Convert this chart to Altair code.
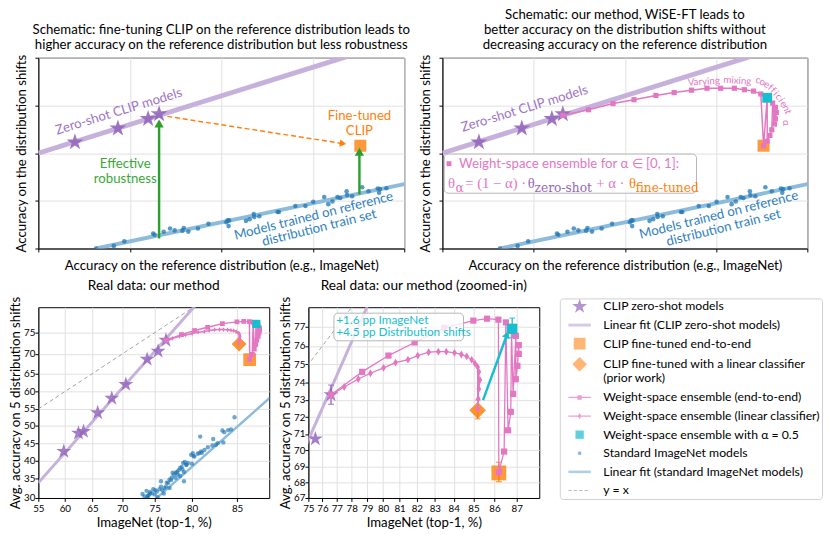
import numpy as np
import pandas as pd
import altair as alt

FONT = "Lato"
MATHM = "Liberation Serif"
MATHS = "DejaVu Serif"

PURPLE = "#9467bd"
LAVENDER = "#c6b1dd"
ORANGE = "#ff7f0e"
PINK = "#e377c2"
CYAN = "#17becf"
BLUE = "#1f77b4"
BLUE_FIT = "#8dbbdc"
GREEN = "#2ca02c"
GREY = "#a0a0a0"

# ---------------- schematic panels (arbitrary units 0..4) ----------------
sch_zs_x = [0.40, 0.87, 1.20, 1.32]
sch_zs_y = [2.23, 2.52, 2.72, 2.82]
sch_zsfit_x = [0.0, 3.45]
sch_zsfit_y = [2.0, 4.07]
sch_std_x = [0.63, 0.825, 0.94, 1.255, 1.27, 1.37, 1.44, 1.49, 1.575, 1.59,
             1.64, 1.745, 1.86, 2.055, 2.07, 2.08, 2.085, 2.27, 2.31, 2.355,
             2.36, 2.415, 2.615, 2.63, 2.81, 2.92, 3.005, 3.125, 3.17, 3.215,
             3.27, 3.30, 3.37, 3.375, 3.43, 3.54, 3.61, 3.71, 3.725, 3.735, 3.805]
sch_std_y = [0.0, 0.055, 0.15, 0.315, 0.29, 0.35, 0.42, 0.38, 0.375, 0.43,
             0.355, 0.42, 0.52, 0.55, 0.59, 0.47, 0.59, 0.58, 0.615, 0.725,
             0.66, 0.675, 0.765, 0.765, 0.89, 0.89, 0.98, 1.08, 0.93, 0.985,
             1.08, 1.06, 1.20, 1.12, 1.095, 1.285, 1.20, 1.26, 1.17, 1.245, 1.265]
sch_stdfit_x = [0.63, 4.0]
sch_stdfit_y = [0.0, 1.35]
sch_ft_x = [3.52]
sch_ft_y = [2.155]
sch_wise_x = [1.32, 1.60, 1.87, 2.10, 2.34, 2.54, 2.73, 2.90, 3.05, 3.20, 3.31, 3.41,
              3.49, 3.56, 3.62, 3.65, 3.66, 3.65, 3.64, 3.61, 3.59, 3.56, 3.52]
sch_wise_y = [2.79, 2.91, 3.04, 3.12, 3.21, 3.27, 3.32, 3.36, 3.36, 3.36, 3.33, 3.30,
              3.24, 3.16, 3.05, 2.96, 2.85, 2.72, 2.61, 2.49, 2.37, 2.25, 2.155]
sch_half_x = [3.56]
sch_half_y = [3.16]
# arrows: start -> end
sch_arrow_x0 = [1.41, 1.32, 3.51]
sch_arrow_y0 = [2.77, 0.21, 1.13]
sch_arrow_x1 = [3.33, 1.32, 3.51]
sch_arrow_y1 = [2.20, 2.62, 2.03]

# ---------------- real data (percent) ----------------
zs_x = [59.8, 62.5, 63.4, 65.9, 68.3, 70.6, 73.9, 75.5, 76.6]
zs_y = [42.6, 47.9, 48.4, 53.9, 58.1, 62.0, 68.7, 70.7, 73.3]
zsfit_x = [55.0, 81.0]
zsfit_y = [33.9, 81.5]
std_x = [84.75, 81.0, 83.5, 83.7, 84.1, 84.4, 82.5, 83.0, 83.6, 82.4, 82.8,
         81.1, 80.9, 80.7, 81.2, 80.1, 79.9, 80.2, 80.0, 79.1, 78.9, 79.3,
         78.7, 78.5, 78.8, 78.3, 79.0, 78.1, 77.9, 77.7, 78.2, 77.5, 79.0,
         77.4, 77.3, 77.1, 76.9, 76.7, 76.6, 76.4, 76.1, 76.3, 75.9, 75.9,
         75.7, 75.3, 75.1, 75.0, 74.8, 74.3, 75.4, 77.1, 77.9, 78.5, 79.3,
         79.5, 80.3, 81.5, 81.9, 73.2, 73.5, 73.8, 74.0, 74.3, 73.9, 74.6, 74.1]
std_y = [52.6, 46.9, 48.7, 48.2, 48.8, 49.0, 46.2, 45.0, 45.2, 44.3, 44.5,
         42.6, 42.1, 41.9, 42.2, 42.1, 41.6, 41.3, 39.1, 39.6, 39.3, 38.8,
         38.2, 37.9, 37.5, 37.3, 36.8, 36.8, 36.6, 36.1, 36.1, 36.6, 34.3,
         35.3, 34.6, 34.8, 33.9, 33.9, 32.9, 32.5, 32.0, 31.1, 34.3, 32.9,
         32.2, 31.6, 32.0, 30.9, 32.2, 31.1, 30.2, 32.5, 35.2, 35.7, 38.8,
         39.3, 41.1, 43.0, 43.8, 31.0, 30.4, 31.8, 30.5, 31.5, 30.1, 31.2, 30.7]
stdfit_x = [73.0, 88.0]
stdfit_y = [26.7, 58.4]
e2e_x = [76.6, 78.68, 80.33, 81.87, 83.5, 84.99, 85.65, 86.18, 86.52, 86.77,
         86.96, 87.09, 87.09, 87.03, 86.96, 86.84, 86.74, 86.62, 86.44, 86.2]
e2e_y = [73.3, 74.59, 75.48, 76.18, 76.95, 77.32, 77.42, 77.37, 77.23, 76.9,
         76.53, 76.04, 75.57, 74.92, 74.18, 73.35, 72.31, 71.22, 69.93, 68.66]
lin_x = [76.6, 77.5, 78.43, 79.21, 80.03, 80.76, 81.49, 82.05, 82.66, 83.19, 83.61,
         84.04, 84.39, 84.66, 84.91, 85.07, 85.2, 85.26, 85.31, 85.26, 85.23, 85.2]
lin_y = [73.3, 73.74, 74.19, 74.51, 74.81, 75.1, 75.26, 75.48, 75.66, 75.69, 75.69,
         75.63, 75.54, 75.44, 75.26, 75.05, 74.86, 74.59, 74.14, 73.63, 73.07, 72.5]
ft_x, ft_y = [86.2], [68.6]
lc_x, lc_y = [85.2], [72.4]
wise_x, wise_y = [86.8], [76.9]
yx_x = [55.0, 82.0]
yx_y = [55.0, 82.0]
err_x = [76.6, 85.2, 86.2, 86.8]
err_lo = [72.75, 71.9, 68.05, 76.44]
err_hi = [73.85, 73.0, 69.27, 77.45]
err_col = [PURPLE, ORANGE, ORANGE, CYAN]
herr_lo, herr_hi, herr_y = [86.62], [86.98], [76.9]

legend_labels = ["CLIP zero-shot models", "Linear fit (CLIP zero-shot models)",
                 "CLIP fine-tuned end-to-end",
                 "CLIP fine-tuned with a linear classifier (prior work)",
                 "Weight-space ensemble (end-to-end)",
                 "Weight-space ensemble (linear classifier)",
                 "Weight-space ensemble with α = 0.5", "Standard ImageNet models",
                 "Linear fit (standard ImageNet models)", "y = x"]


def lg(v):
    a = np.asarray(v, dtype=float)
    return np.log(a / (100.0 - a))


def star_path(r, ratio=0.382):
    ang = -np.pi / 2 + np.arange(10) * np.pi / 5
    rad = np.where(np.arange(10) % 2 == 0, r, r * ratio)
    return "M" + "L".join(f"{q*np.cos(a):.3f},{q*np.sin(a):.3f}" for q, a in zip(rad, ang)) + "Z"


def rect(x0, x1, h):
    return f"M{x0},{-h}L{x1},{-h}L{x1},{h}L{x0},{h}Z"


def sq(s):
    return rect(-s, s, s)


def dia(h, w):
    return f"M0,{-h}L{w},0L0,{h}L{-w},0Z"


def circ(r, n=16):
    a = np.arange(n) * 2 * np.pi / n
    return "M" + "L".join(f"{r*np.cos(t):.3f},{r*np.sin(t):.3f}" for t in a) + "Z"


STAR = star_path(1.0)
THIN_DIA = dia(1.0, 0.6)
L = 2.3
legend_paths = [star_path(1.6), rect(-L, L, 0.3), sq(1.2), dia(1.5, 1.5),
                rect(-L, L, 0.13) + sq(0.45), rect(-L, L, 0.13) + dia(0.65, 0.38),
                sq(0.85), circ(0.38), rect(-L, L, 0.26),
                "".join(rect(a, a + 0.7, 0.1) for a in [-2.3, -1.2, -0.1, 1.0])]
legend_colors = [PURPLE, LAVENDER, "#ff973a", "#ff973a", PINK, PINK, CYAN, "#5b9bcb",
                 BLUE_FIT, GREY]

# ---------------- schematic helpers ----------------
def sch_axes():
    X = alt.X("x:Q", scale=alt.Scale(domain=[0, 4], nice=False, zero=False),
              axis=alt.Axis(values=[0, 1, 2, 3, 4], labels=False, tickSize=3.5,
                            title="Accuracy on the reference distribution (e.g., ImageNet)",
                            titlePadding=6))
    Y = alt.Y("y:Q", scale=alt.Scale(domain=[0, 4], nice=False, zero=False),
              axis=alt.Axis(values=[0, 1, 2, 3, 4], labels=False, tickSize=3.5,
                            title="Accuracy on the distribution shifts", titlePadding=6))
    return X, Y


def sdf(xs, ys, **kw):
    d = pd.DataFrame({"x": xs, "y": ys})
    for k, v in kw.items():
        d[k] = v
    return d


def sch_common(X, Y):
    layers = []
    layers.append(alt.Chart(sdf(sch_zsfit_x, sch_zsfit_y)).mark_line(
        color=LAVENDER, strokeWidth=5, clip=True).encode(x=X, y=Y))
    layers.append(alt.Chart(sdf(sch_stdfit_x, sch_stdfit_y)).mark_line(
        color=BLUE_FIT, strokeWidth=4, clip=True).encode(x=X, y=Y))
    layers.append(alt.Chart(sdf(sch_std_x, sch_std_y)).mark_circle(
        color=BLUE, opacity=0.75, size=22, clip=True).encode(x=X, y=Y))
    layers.append(alt.Chart(sdf(sch_zs_x, sch_zs_y)).mark_point(
        shape=STAR, filled=True, size=330, color=PURPLE, opacity=0.9).encode(x=X, y=Y))
    layers.append(alt.Chart(sdf(sch_ft_x, sch_ft_y)).mark_square(
        size=150, color=ORANGE, opacity=0.8).encode(x=X, y=Y))
    return layers


def texts(df, X, Y, **mk):
    return alt.Chart(df).mark_text(font=FONT, **mk).encode(x=X, y=Y, text="t:N")


# ---------------- top-left ----------------
X, Y = sch_axes()
tl = sch_common(X, Y)
arr = pd.DataFrame({"x": sch_arrow_x0, "y": sch_arrow_y0, "x2": sch_arrow_x1, "y2": sch_arrow_y1})
tl.append(alt.Chart(arr.iloc[:1]).mark_rule(color=ORANGE, strokeWidth=1.5, strokeDash=[5, 3]).encode(
    x=X, y=Y, x2="x2:Q", y2="y2:Q"))
tl.append(alt.Chart(arr.iloc[1:]).mark_rule(color=GREEN, strokeWidth=2.5).encode(
    x=X, y=Y, x2="x2:Q", y2="y2:Q"))
heads = pd.DataFrame({"x": sch_arrow_x1, "y": sch_arrow_y1})
tl.append(alt.Chart(heads.iloc[:1]).mark_point(shape="triangle-right", angle=9, filled=True,
                                               size=55, color=ORANGE, opacity=1).encode(x=X, y=Y))
tl.append(alt.Chart(heads.iloc[1:]).mark_point(shape="triangle-up", filled=True,
                                               size=90, color=GREEN, opacity=1).encode(x=X, y=Y))
tl.append(texts(sdf([0.88], [2.87], t="Zero-shot CLIP models"), X, Y, angle=343, fontSize=13.5, color="#9d76c6"))
tl.append(texts(sdf([3.51, 3.51], [2.77, 2.46], t=["Fine-tuned", "CLIP"]), X, Y, fontSize=13.5, color=ORANGE))
tl.append(texts(sdf([0.95, 0.95], [1.76, 1.45], t=["Effective", "robustness"]), X, Y, fontSize=13.5, color="#3aa63a"))
tl.append(texts(sdf([3.01, 3.07], [0.68, 0.43], t=["Models trained on reference", "distribution train set"]),
                X, Y, angle=346, fontSize=13.5, color="#2f80bf"))
# invisible spacer so that the left edges of the two rows line up
tl.append(alt.Chart(sdf([-0.28], [1.0], y2=[1.2])).mark_rule(opacity=0, clip=False).encode(x=X, y=Y, y2="y2:Q"))
TL = alt.layer(*tl).properties(width=374, height=195, title=alt.TitleParams(
    ["Schematic: fine-tuning CLIP on the reference distribution leads to",
     "higher accuracy on the reference distribution but less robustness"], offset=3, lineHeight=15))

# ---------------- top-right ----------------
X, Y = sch_axes()
tr = sch_common(X, Y)
tr.append(alt.Chart(sdf(sch_wise_x, sch_wise_y)).mark_line(color=PINK, strokeWidth=1.5).encode(x=X, y=Y))
tr.append(alt.Chart(sdf(sch_wise_x, sch_wise_y)).mark_square(color=PINK, size=28, opacity=1).encode(x=X, y=Y))
tr.append(alt.Chart(sdf(sch_half_x, sch_half_y)).mark_square(color=CYAN, size=100, opacity=1).encode(x=X, y=Y))
tr.append(alt.Chart(pd.DataFrame({"x": [0.02], "y": [1.98], "x2": [2.785], "y2": [1.16]})).mark_rect(
    fill="white", fillOpacity=0.85, stroke="#b5b5b5", strokeWidth=1, cornerRadius=4).encode(
    x=X, y=Y, x2="x2:Q", y2="y2:Q"))
tr.append(alt.Chart(sdf([0.072], [1.778])).mark_square(color=PINK, size=25, opacity=1).encode(x=X, y=Y))
tr.append(texts(sdf([0.182], [1.778], t="Weight-space ensemble for α ∈ [0, 1]:"), X, Y,
                align="left", fontSize=13.5, color=PINK))
form_t = ["θ", "= (1 − α) ·", "θ", "+ α ·", "θ"]
form_x = [0.061, 0.25, 0.936, 1.687, 2.045]
form_c = [PINK, PINK, PURPLE, PINK, ORANGE]
sub_t = ["α", "zero-shot", "fine-tuned"]
sub_x = [0.143, 1.010, 2.118]
sub_c = [PINK, PURPLE, ORANGE]
tr.append(alt.Chart(sdf(form_x, [1.37] * 5, t=form_t, c=form_c)).mark_text(
    font=MATHM, fontSize=15, align="left").encode(x=X, y=Y, text="t:N", color=alt.Color("c:N", scale=None)))
tr.append(alt.Chart(sdf(sub_x, [1.27] * 3, t=sub_t, c=sub_c)).mark_text(
    font=MATHS, fontSize=12.5, align="left").encode(x=X, y=Y, text="t:N", color=alt.Color("c:N", scale=None)))
vary_t = ["Varying", "mixing", "c", "o", "e", "f", "f", "i", "c", "i", "e", "n", "t", "α"]
vary_x = [2.865, 3.233, 3.458, 3.506, 3.553, 3.594, 3.627, 3.653, 3.686, 3.712, 3.739, 3.766, 3.788, 3.764]
vary_y = [3.497, 3.518, 3.528, 3.487, 3.436, 3.374, 3.313, 3.251, 3.179, 3.108, 3.026, 2.944, 2.862, 2.636]
vary_a = [356, 4, 15, 20, 27, 35, 42, 48, 53, 58, 63, 68, 73, 85]
tr.append(alt.Chart(sdf(vary_x, vary_y, t=vary_t, a=vary_a)).mark_text(
    font=FONT, fontSize=10, color=PINK).encode(x=X, y=Y, text="t:N", angle=alt.Angle("a:Q", scale=None)))
tr.append(texts(sdf([0.90], [2.93], t="Zero-shot CLIP models"), X, Y, angle=343, fontSize=13.5, color="#9d76c6"))
tr.append(texts(sdf([3.03, 3.08], [0.70, 0.43], t=["Models trained on reference", "distribution train set"]),
                X, Y, angle=346, fontSize=13.5, color="#2f80bf"))
TR = alt.layer(*tr).properties(width=373, height=195, title=alt.TitleParams(
    ["Schematic: our method, WiSE-FT leads to",
     "better accuracy on the distribution shifts without",
     "decreasing accuracy on the reference distribution"], offset=3, lineHeight=15))

# ---------------- real-data helpers ----------------
LBL = "format(100/(1+exp(-datum.value)), '.0f')"


def real_axes(dx, tx, dy, ty):
    X = alt.X("xl:Q", scale=alt.Scale(domain=[float(v) for v in lg(dx)], nice=False, zero=False),
              axis=alt.Axis(values=[float(v) for v in lg(tx)], labelExpr=LBL, labelOverlap=False,
                            tickSize=3.5, labelPadding=2, titlePadding=3, labelFlush=False,
                            title="ImageNet (top-1, %)"))
    Y = alt.Y("yl:Q", scale=alt.Scale(domain=[float(v) for v in lg(dy)], nice=False, zero=False),
              axis=alt.Axis(values=[float(v) for v in lg(ty)], labelExpr=LBL, labelOverlap=False,
                            tickSize=3.5, labelPadding=0, titlePadding=1, labelFlush=False,
                            title="Avg. accuracy on 5 distribution shifts"))
    return X, Y


def rdf(xs, ys, **kw):
    d = pd.DataFrame({"xl": lg(xs), "yl": lg(ys)})
    for k, v in kw.items():
        d[k] = v
    return d


def real_layers(X, Y, zoom):
    s = 1.0 if zoom else 0.6
    ly = []
    ly.append(alt.Chart(rdf(yx_x, yx_y)).mark_line(color=GREY, strokeWidth=1, strokeDash=[4, 3], clip=True).encode(x=X, y=Y))
    ly.append(alt.Chart(rdf(zsfit_x, zsfit_y)).mark_line(color=LAVENDER, strokeWidth=3, clip=True).encode(x=X, y=Y))
    if not zoom:
        ly.append(alt.Chart(rdf(stdfit_x, stdfit_y)).mark_line(color=BLUE_FIT, strokeWidth=2.5, clip=True).encode(x=X, y=Y))
        ly.append(alt.Chart(rdf(std_x, std_y)).mark_circle(color=BLUE, opacity=0.65, size=20, clip=True).encode(x=X, y=Y))
    ly.append(alt.Chart(rdf(zs_x, zs_y)).mark_point(shape=STAR, filled=True, size=260, color=PURPLE,
                                                    opacity=0.85, clip=True).encode(x=X, y=Y))
    ly.append(alt.Chart(rdf(lc_x, lc_y)).mark_point(shape="diamond", filled=True, size=290 if zoom else 230,
                                                    color=ORANGE, opacity=0.85).encode(x=X, y=Y))
    ly.append(alt.Chart(rdf(ft_x, ft_y)).mark_square(size=230 if zoom else 170, color=ORANGE, opacity=0.8).encode(x=X, y=Y))
    if zoom:
        e = rdf(err_x, err_lo, y2=lg(err_hi), c=err_col)
        ly.append(alt.Chart(e).mark_rule(strokeWidth=1.3).encode(x=X, y=Y, y2="y2:Q", color=alt.Color("c:N", scale=None)))
        ly.append(alt.Chart(rdf(err_x, err_lo, c=err_col)).mark_tick(orient="horizontal", size=6, thickness=1.3).encode(
            x=X, y=Y, color=alt.Color("c:N", scale=None)))
        ly.append(alt.Chart(rdf(err_x, err_hi, c=err_col)).mark_tick(orient="horizontal", size=6, thickness=1.3).encode(
            x=X, y=Y, color=alt.Color("c:N", scale=None)))
    ly.append(alt.Chart(rdf(e2e_x, e2e_y)).mark_line(color=PINK, strokeWidth=1.3 if zoom else 1.5).encode(x=X, y=Y))
    ly.append(alt.Chart(rdf(e2e_x, e2e_y)).mark_square(color=PINK, size=40 * s, opacity=1).encode(x=X, y=Y))
    ly.append(alt.Chart(rdf(lin_x, lin_y)).mark_line(color=PINK, strokeWidth=1.3 if zoom else 1.5).encode(x=X, y=Y))
    ly.append(alt.Chart(rdf(lin_x, lin_y)).mark_point(shape=THIN_DIA, filled=True, color=PINK, size=64 * s * s,
                                                      opacity=1).encode(x=X, y=Y))
    ly.append(alt.Chart(rdf(wise_x, wise_y)).mark_square(color=CYAN, size=110 if zoom else 70, opacity=1).encode(x=X, y=Y))
    if zoom:
        h = pd.DataFrame({"xl": lg(herr_lo), "x2": lg(herr_hi), "yl": lg(herr_y)})
        ly.append(alt.Chart(h).mark_rule(color=CYAN, strokeWidth=1.3).encode(x=X, x2="x2:Q", y=Y))
        ly.append(alt.Chart(rdf(herr_lo + herr_hi, herr_y * 2)).mark_tick(orient="vertical", size=6, thickness=1.3,
                                                                         color=CYAN).encode(x=X, y=Y))
    return ly


# ---------------- bottom-left ----------------
X, Y = real_axes([55, 87.9], [55, 60, 65, 70, 75, 80, 85], [30, 80.2], [30, 35, 40, 45, 50, 55, 60, 65, 70, 75])
BL = alt.layer(*real_layers(X, Y, False)).properties(
    width=236, height=195, title=alt.TitleParams("Real data: our method", fontSize=14, offset=3))

# ---------------- bottom-middle ----------------
X, Y = real_axes([75, 87.95], list(range(75, 88)), [67, 78], list(range(67, 78)))
bm = real_layers(X, Y, True)
bm.append(alt.Chart(rdf([76.8], [77.7], x2=lg([84.5]), y2=lg([76.27]))).mark_rect(
    fill="white", fillOpacity=0.8, stroke="#b5b5b5", strokeWidth=1, cornerRadius=4).encode(
    x=X, y=Y, x2="x2:Q", y2="y2:Q"))
ann_x0, ann_y0, ann_x1, ann_y1 = [85.46], [72.99], [86.57], [76.6]
bm.append(alt.Chart(rdf(ann_x0, ann_y0, x2=lg(ann_x1), y2=lg(ann_y1))).mark_rule(
    color=CYAN, strokeWidth=2.5).encode(x=X, y=Y, x2="x2:Q", y2="y2:Q"))
bm.append(alt.Chart(rdf(ann_x1, ann_y1)).mark_point(shape="triangle-up", angle=20, filled=True, size=70,
                                                    color=CYAN, opacity=1).encode(x=X, y=Y))
bm.append(alt.Chart(rdf([76.96, 76.96], [77.33, 76.75], t=["+1.6 pp ImageNet", "+4.5 pp Distribution shifts"])).mark_text(
    font=FONT, fontSize=12, align="left", color=CYAN).encode(x=X, y=Y, text="t:N"))
LEG = alt.Legend(title=None, orient="none", legendX=257, legendY=-9, labelFont=FONT, labelFontSize=12.5,
                 labelLimit=400, symbolSize=100, symbolOpacity=1, symbolStrokeWidth=0, labelOffset=18,
                 symbolOffset=12, padding=2, rowPadding=6, strokeColor="#d0d0d0", fillColor="white",
                 cornerRadius=3, labelColor="black",
                 labelExpr="datum.label == 'CLIP fine-tuned with a linear classifier (prior work)' ? "
                           "['CLIP fine-tuned with a linear classifier', '(prior work)'] : datum.label")
leg_df = pd.DataFrame({"lab": legend_labels, "xl": float(lg(80)), "yl": float(lg(70))})
bm.append(alt.Chart(leg_df).mark_point(filled=True, opacity=0, size=0).encode(
    x=X, y=Y,
    color=alt.Color("lab:N", scale=alt.Scale(domain=legend_labels, range=legend_colors), legend=LEG),
    shape=alt.Shape("lab:N", scale=alt.Scale(domain=legend_labels, range=legend_paths), legend=LEG)))
BM = alt.layer(*bm).properties(width=236, height=195, title=alt.TitleParams(
    "Real data: our method (zoomed-in)", fontSize=14, offset=3))

top = alt.hconcat(TL, TR, spacing=39, bounds="flush")
bottom = alt.hconcat(BL, BM, spacing=40, bounds="flush").resolve_scale(
    color="independent", shape="independent").resolve_legend(color="independent", shape="independent")
chart = alt.vconcat(top, bottom, spacing=7).resolve_scale(
    color="independent", shape="independent").resolve_legend(
    color="independent", shape="independent").properties(
    padding={"left": 0, "top": -6, "right": 0, "bottom": 0}
).configure_view(stroke="black", strokeWidth=1).configure_axis(
    domainColor="black", tickColor="black", gridColor="#e0e0e0", labelFont=FONT, titleFont=FONT,
    labelFontSize=10, titleFontSize=13.5, titleFontWeight="normal", labelColor="black", titleColor="black"
).configure_title(font=FONT, fontSize=13.5, fontWeight="normal", color="black")

chart.save("out.html", embed_options={"renderer": "svg", "actions": False})
